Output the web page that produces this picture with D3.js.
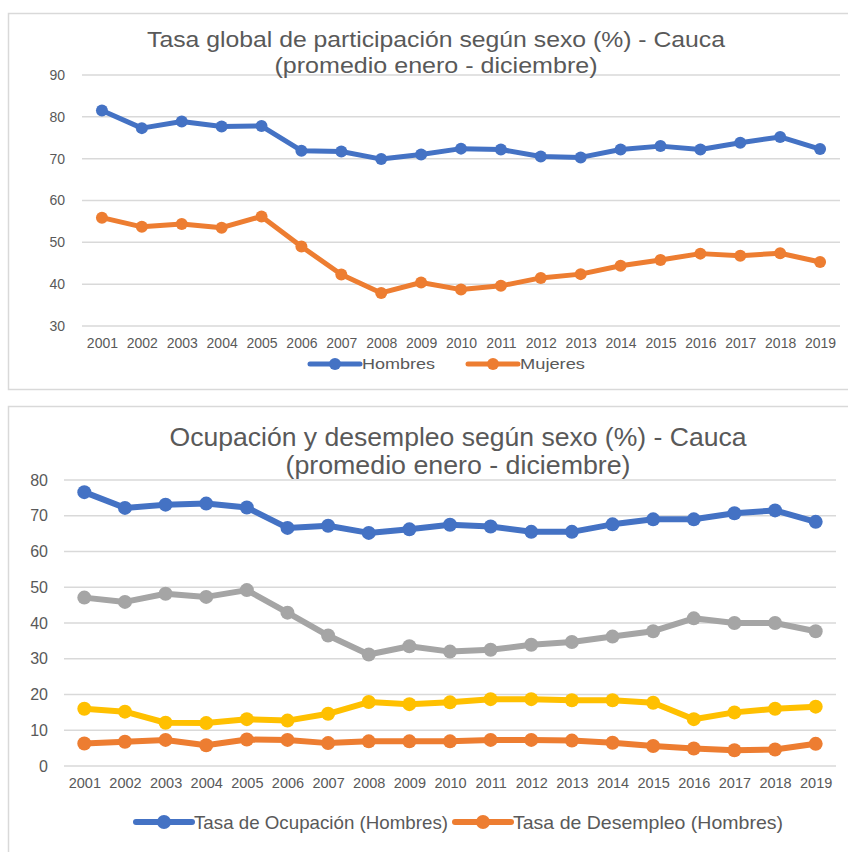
<!DOCTYPE html>
<html><head><meta charset="utf-8">
<script src="https://cdn.jsdelivr.net/npm/d3@7"></script>
<style>
html,body{margin:0;padding:0;background:#fff;}
svg{display:block;}
text{font-family:"Liberation Sans",Arial,sans-serif;fill:#595959;}
</style></head>
<body>
<svg id="chart" width="848" height="852"></svg>
<script>
const years = ["2001","2002","2003","2004","2005","2006","2007","2008","2009","2010","2011","2012","2013","2014","2015","2016","2017","2018","2019"];

// Chart 1: Tasa global de participación
const tgpHombres = [81.5,77.3,78.9,77.7,77.8,71.9,71.7,69.9,71.0,72.4,72.2,70.5,70.3,72.2,73.0,72.2,73.8,75.2,72.3];
const tgpMujeres = [55.9,53.7,54.4,53.5,56.2,49.0,42.3,37.9,40.4,38.7,39.6,41.5,42.4,44.4,45.8,47.3,46.8,47.4,45.3];
const yTicks1 = [30,40,50,60,70,80,90];

// Chart 2: Ocupación y desempleo
const tasaOcupHombres = [76.6,72.2,73.1,73.4,72.3,66.6,67.2,65.2,66.2,67.5,67.0,65.5,65.5,67.6,69.0,69.0,70.7,71.5,68.3];
const tasaOcupMujeres = [47.1,45.9,48.2,47.3,49.2,42.9,36.5,31.2,33.5,32.0,32.5,33.9,34.7,36.2,37.7,41.3,40.0,40.0,37.7];
const tasaDesMujeres = [16.0,15.2,12.1,12.0,13.1,12.7,14.6,17.9,17.3,17.8,18.7,18.7,18.4,18.4,17.7,13.1,15.0,16.0,16.6];
const tasaDesHombres = [6.3,6.8,7.3,5.8,7.4,7.3,6.4,6.9,6.9,6.9,7.3,7.3,7.1,6.5,5.6,4.9,4.4,4.6,6.2];
const yTicks2 = [0,10,20,30,40,50,60,70,80];

const BLUE="#4472C4", ORANGE="#ED7D31", GRAY="#A5A5A5", YELLOW="#FFC000";

const svg = d3.select("#chart");

// frames
svg.append("rect").attr("x",8.5).attr("y",13.5).attr("width",850).attr("height",376)
  .attr("fill","#fff").attr("stroke","#d9d9d9").attr("stroke-width",1.5);
svg.append("rect").attr("x",8.5).attr("y",406.5).attr("width",850).attr("height",460)
  .attr("fill","#fff").attr("stroke","#d9d9d9").attr("stroke-width",1.5);

function drawChart(o){
  const g = svg.append("g");
  const x = d3.scalePoint().domain(years).range([o.x0, o.x1]).padding(0.5);
  const y = d3.scaleLinear().domain(o.ydom).range([o.yb, o.yt]);
  g.selectAll(".grid").data(o.ticks).join("line")
    .attr("x1",o.x0).attr("x2",o.x1)
    .attr("y1",d=>y(d)).attr("y2",d=>y(d))
    .attr("stroke","#d9d9d9").attr("stroke-width",1.5);
  const ya = g.append("g").attr("transform",`translate(${o.ylabX},0)`)
    .call(d3.axisLeft(y).tickValues(o.ticks).tickSize(0).tickPadding(0));
  ya.select(".domain").remove();
  ya.selectAll("text").attr("font-size",o.ytickFs).attr("fill","#595959")
    .style("font-family","'Liberation Sans',Arial,sans-serif");
  const xa = g.append("g").attr("transform",`translate(0,${o.xlabY})`)
    .call(d3.axisBottom(x).tickSize(0).tickPadding(0));
  xa.select(".domain").remove();
  xa.selectAll("text").attr("font-size",o.tickFs).attr("fill","#595959")
    .style("font-family","'Liberation Sans',Arial,sans-serif");
  o.title.forEach((t,i)=>{
    g.append("text").attr("x",o.titleX).attr("y",o.titleY[i]).attr("text-anchor","middle")
      .attr("font-size",o.titleFs)
      .attr("textLength",o.titleLen[i]).attr("lengthAdjust","spacingAndGlyphs")
      .text(t);
  });
  const line = d3.line().x((d,i)=>x(years[i])).y(d=>y(d));
  o.series.forEach(s=>{
    g.append("path").datum(s.values).attr("d",line).attr("fill","none")
      .attr("stroke",s.color).attr("stroke-width",o.lw).attr("stroke-linejoin","round");
    g.selectAll(null).data(s.values).join("circle")
      .attr("cx",(d,i)=>x(years[i])).attr("cy",d=>y(d)).attr("r",o.r)
      .attr("fill",s.color);
  });
  o.legend.forEach(l=>{
    g.append("line").attr("x1",l.x).attr("x2",l.x+o.legLen).attr("y1",o.legY).attr("y2",o.legY)
      .attr("stroke",l.color).attr("stroke-width",o.lw).attr("stroke-linecap","round");
    g.append("circle").attr("cx",l.x+o.legLen/2).attr("cy",o.legY).attr("r",o.r).attr("fill",l.color);
    g.append("text").attr("x",l.x+o.legLen+2).attr("y",o.legY).attr("dy","0.35em")
      .attr("font-size",o.legFs)
      .attr("textLength",l.len).attr("lengthAdjust","spacingAndGlyphs")
      .text(l.name);
  });
}

drawChart({
  x0:82, x1:840, ydom:[30,90], yb:326, yt:75, ticks:yTicks1,
  ylabX:65, xlabY:338, tickFs:14, ytickFs:14,
  title:["Tasa global de participación según sexo (%) - Cauca","(promedio enero - diciembre)"],
  titleX:436, titleY:[47,73], titleFs:22, titleLen:[578,323],
  lw:5, r:6,
  series:[{values:tgpHombres,color:BLUE},{values:tgpMujeres,color:ORANGE}],
  legend:[{x:310,color:BLUE,name:"Hombres",len:73},{x:468,color:ORANGE,name:"Mujeres",len:65}],
  legY:364, legLen:50, legFs:15
});

drawChart({
  x0:64, x1:836, ydom:[0,80], yb:766, yt:480, ticks:yTicks2,
  ylabX:48, xlabY:778, tickFs:14.5, ytickFs:16,
  title:["Ocupación y desempleo según sexo (%) - Cauca","(promedio enero - diciembre)"],
  titleX:458, titleY:[446,474], titleFs:26, titleLen:[577,345],
  lw:6, r:7,
  series:[{values:tasaOcupHombres,color:BLUE},{values:tasaOcupMujeres,color:GRAY},
          {values:tasaDesMujeres,color:YELLOW},{values:tasaDesHombres,color:ORANGE}],
  legend:[{x:136,color:BLUE,name:"Tasa de Ocupación (Hombres)",len:254},{x:455,color:ORANGE,name:"Tasa de Desempleo (Hombres)",len:270}],
  legY:822, legLen:56, legFs:19
});
</script>
</body></html>
